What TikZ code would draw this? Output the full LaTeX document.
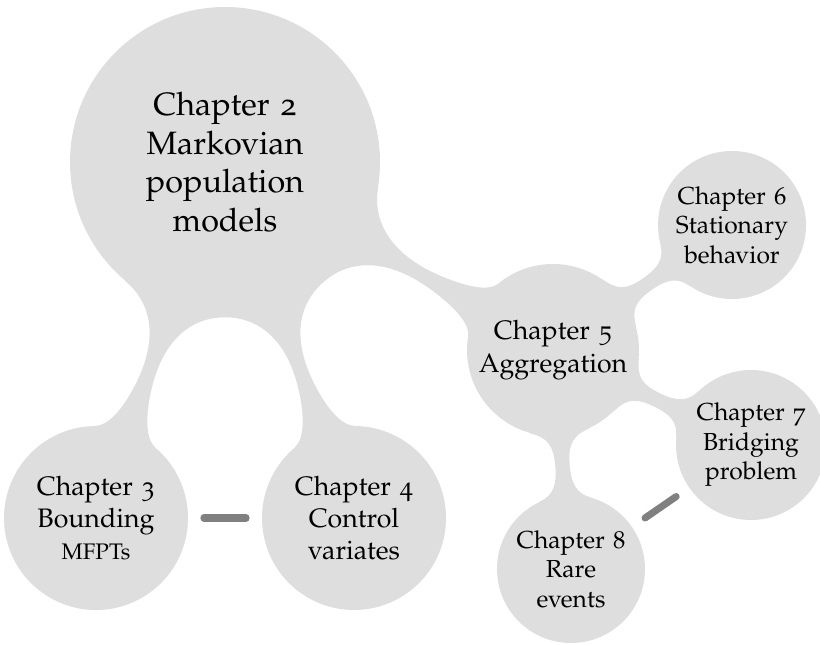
\documentclass[tikz,border=0pt]{standalone}
\usepackage[T1]{fontenc}
\usepackage[osf,sc]{mathpazo}
\usetikzlibrary{calc,backgrounds}
\colorlet{chapterfill}{black!13}
\colorlet{linkgray}{black!50}
\tikzset{
  % Specifications for style of nodes:
  chapter/.style = {
    circle,
    fill=chapterfill,
    text=black,
    align=center,
    inner sep=0pt
  },
  rootchapter/.style = {
    chapter,
    minimum size=7.75cm,
    text width=4.6cm,
    font=\fontsize{23}{27.5}\selectfont
  },
  mainchapter/.style = {
    chapter,
    minimum size=4.6cm,
    text width=3.8cm,
    font=\fontsize{19}{23}\selectfont
  },
  subchapter/.style = {
    chapter,
    minimum size=3.7cm,
    text width=2.9cm,
    font=\fontsize{17.5}{21}\selectfont
  },
  relation/.style = {
    draw=linkgray,
    line width=5pt,
    line cap=round,
    shorten <=0.39cm,
    shorten >=0.39cm
  },
}
% bar between two chapter circles
\newcommand{\flare}{20}
\newcommand{\halfbar}{0.18cm}
\newcommand{\chapterlink}[2]{%
  \fill[chapterfill] let
    \p1=(#1.center), \p2=(#2.center),
    \p3=($(#1.east)-(#1.center)$), \p4=($(#2.east)-(#2.center)$),
    \p{ea}=($(\p1)!\x3!(\p2)$), \p{eb}=($(\p2)!\x4!(\p1)$),
    \p{m}=($(\p{ea})!0.5!(\p{eb})$),
    \p{ml}=($(\p{m})!\halfbar!90:(\p2)$), \p{mr}=($(\p{m})!\halfbar!-90:(\p2)$),
    \p{al}=($(\p1)!\x3!\flare:(\p2)$), \p{ar}=($(\p1)!\x3!-\flare:(\p2)$),
    \p{bl}=($(\p2)!\x4!-\flare:(\p1)$), \p{br}=($(\p2)!\x4!\flare:(\p1)$),
    \p{ca}=($(\p{m})!0.25*\x3!(\p1)$), \p{cb}=($(\p{m})!0.25*\x4!(\p2)$)
  in
    (\p{al}) .. controls ($(\p{al})!0.2*\x3!90:(\p1)$) and ($(\p{ca})!\halfbar!-90:(\p1)$) .. (\p{ml})
    .. controls ($(\p{cb})!\halfbar!90:(\p2)$) and ($(\p{bl})!0.2*\x4!-90:(\p2)$) .. (\p{bl})
    -- (\p2) -- (\p{br})
    .. controls ($(\p{br})!0.2*\x4!90:(\p2)$) and ($(\p{cb})!\halfbar!-90:(\p2)$) .. (\p{mr})
    .. controls ($(\p{ca})!\halfbar!90:(\p1)$) and ($(\p{ar})!0.2*\x3!-90:(\p1)$) .. (\p{ar})
    -- (\p1) -- cycle;
}

\begin{document}
\begin{tikzpicture}
    \useasboundingbox (0,0) rectangle (20.5,16.1);
    % Specification of nodes (position, etc.)
    \node[rootchapter] (ch2) at (5.625, 12.05)  {Chapter 2\\Markovian\\population\\models};
    \node[mainchapter] (ch3) at (2.4, 3.15)     {Chapter 3\\Bounding\\\makebox[\hsize]{\fontsize{16}{19}\selectfont MFPTs}};
    \node[mainchapter] (ch4) at (8.85, 3.15)    {Chapter 4\\Control\\variates};
    \node[mainchapter, minimum size=4.3cm] (ch5) at (13.825, 7.35) {Chapter 5\\Aggregation};
    \node[subchapter]  (ch6) at (18.3, 10.475)  {Chapter 6\\Stationary\\behavior};
    \node[subchapter, minimum size=3.75cm] (ch7) at (18.775, 4.975) {Chapter 7\\Bridging\\problem};
    \node[subchapter]  (ch8) at (14.275, 1.875) {Chapter 8\\Rare\\events};
    % Connections
    \begin{pgfonlayer}{background}
      \chapterlink{ch2}{ch3}
      \chapterlink{ch2}{ch4}
      \chapterlink{ch2}{ch5}
      \chapterlink{ch5}{ch6}
      \chapterlink{ch5}{ch7}
      \chapterlink{ch5}{ch8}
    \end{pgfonlayer}
    \draw[relation] (ch3) -- (ch4);
    \draw[relation] (ch8) -- (ch7);
  \end{tikzpicture}
\end{document}
